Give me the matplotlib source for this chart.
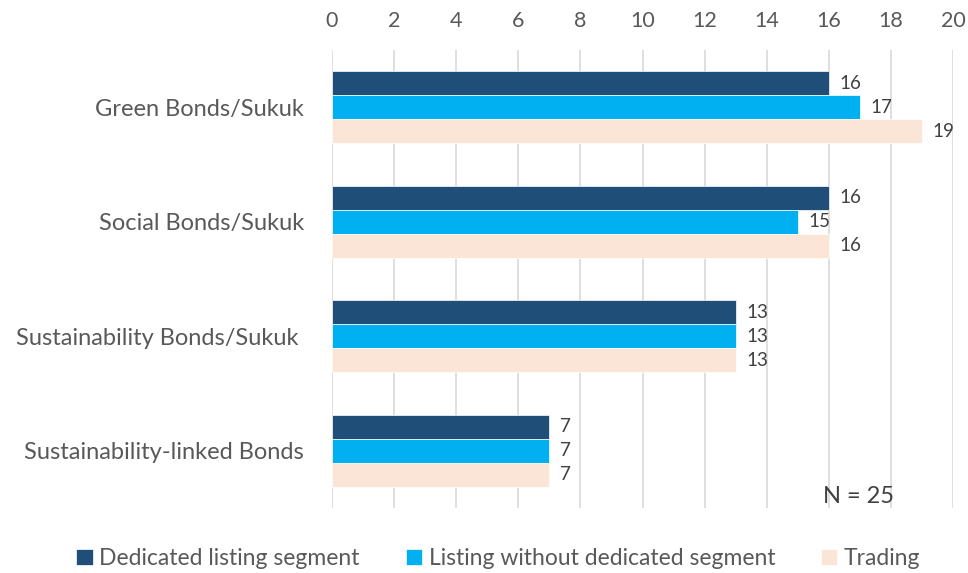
import matplotlib.pyplot as plt
import numpy as np

plt.rcParams['font.family'] = ['Lato', 'DejaVu Sans']

categories = ['Green Bonds/Sukuk', 'Social Bonds/Sukuk',
              'Sustainability Bonds/Sukuk ', 'Sustainability-linked Bonds']
series_names = ['Dedicated listing segment', 'Listing without dedicated segment', 'Trading']
dedicated = [16, 16, 13, 7]
listing_wo = [17, 15, 13, 7]
trading = [19, 16, 13, 7]
colors = ['#1F4E79', '#00B0F0', '#FBE5D6']
text_col = '#595959'

fig = plt.figure(figsize=(9.68, 5.73), dpi=100)
ax = fig.add_axes([0.343, 0.1134, 0.6415, 0.7993])

y = np.arange(len(categories))
h = 0.21
for i, (vals, name, c) in enumerate(zip([dedicated, listing_wo, trading], series_names, colors)):
    pos = y + (i - 1) * h
    ax.barh(pos, vals, height=h, color=c, label=name, zorder=3,
            edgecolor='white', linewidth=0.5)
    for p, v in zip(pos, vals):
        ax.text(v + 0.35, p, str(v), va='center', ha='left', fontsize=13.5, color='#404040')

ax.set_ylim(len(categories) - 0.5, -0.5)
ax.set_xlim(0, 20)
ax.set_xticks(range(0, 21, 2))
ax.xaxis.tick_top()
ax.tick_params(axis='x', length=0, labelsize=15.5, labelcolor=text_col, pad=14)
ax.set_yticks(y)
ax.set_yticklabels(categories)
ax.tick_params(axis='y', length=0, labelsize=17, labelcolor=text_col, pad=20)
ax.grid(axis='x', color='#D9D9D9', linewidth=1.2, zorder=0)
for s in ax.spines.values():
    s.set_visible(False)

ax.text(16.95, 3.4, 'N = 25', fontsize=17, color='#404040', ha='center', va='center')

fig.legend(loc='center', bbox_to_anchor=(0.515, 0.026), ncol=3, frameon=False,
           fontsize=16.5, handlelength=0.7, handleheight=0.7, handletextpad=0.3,
           columnspacing=2.0, labelcolor=text_col)

fig.savefig('out.png', dpi=100)
